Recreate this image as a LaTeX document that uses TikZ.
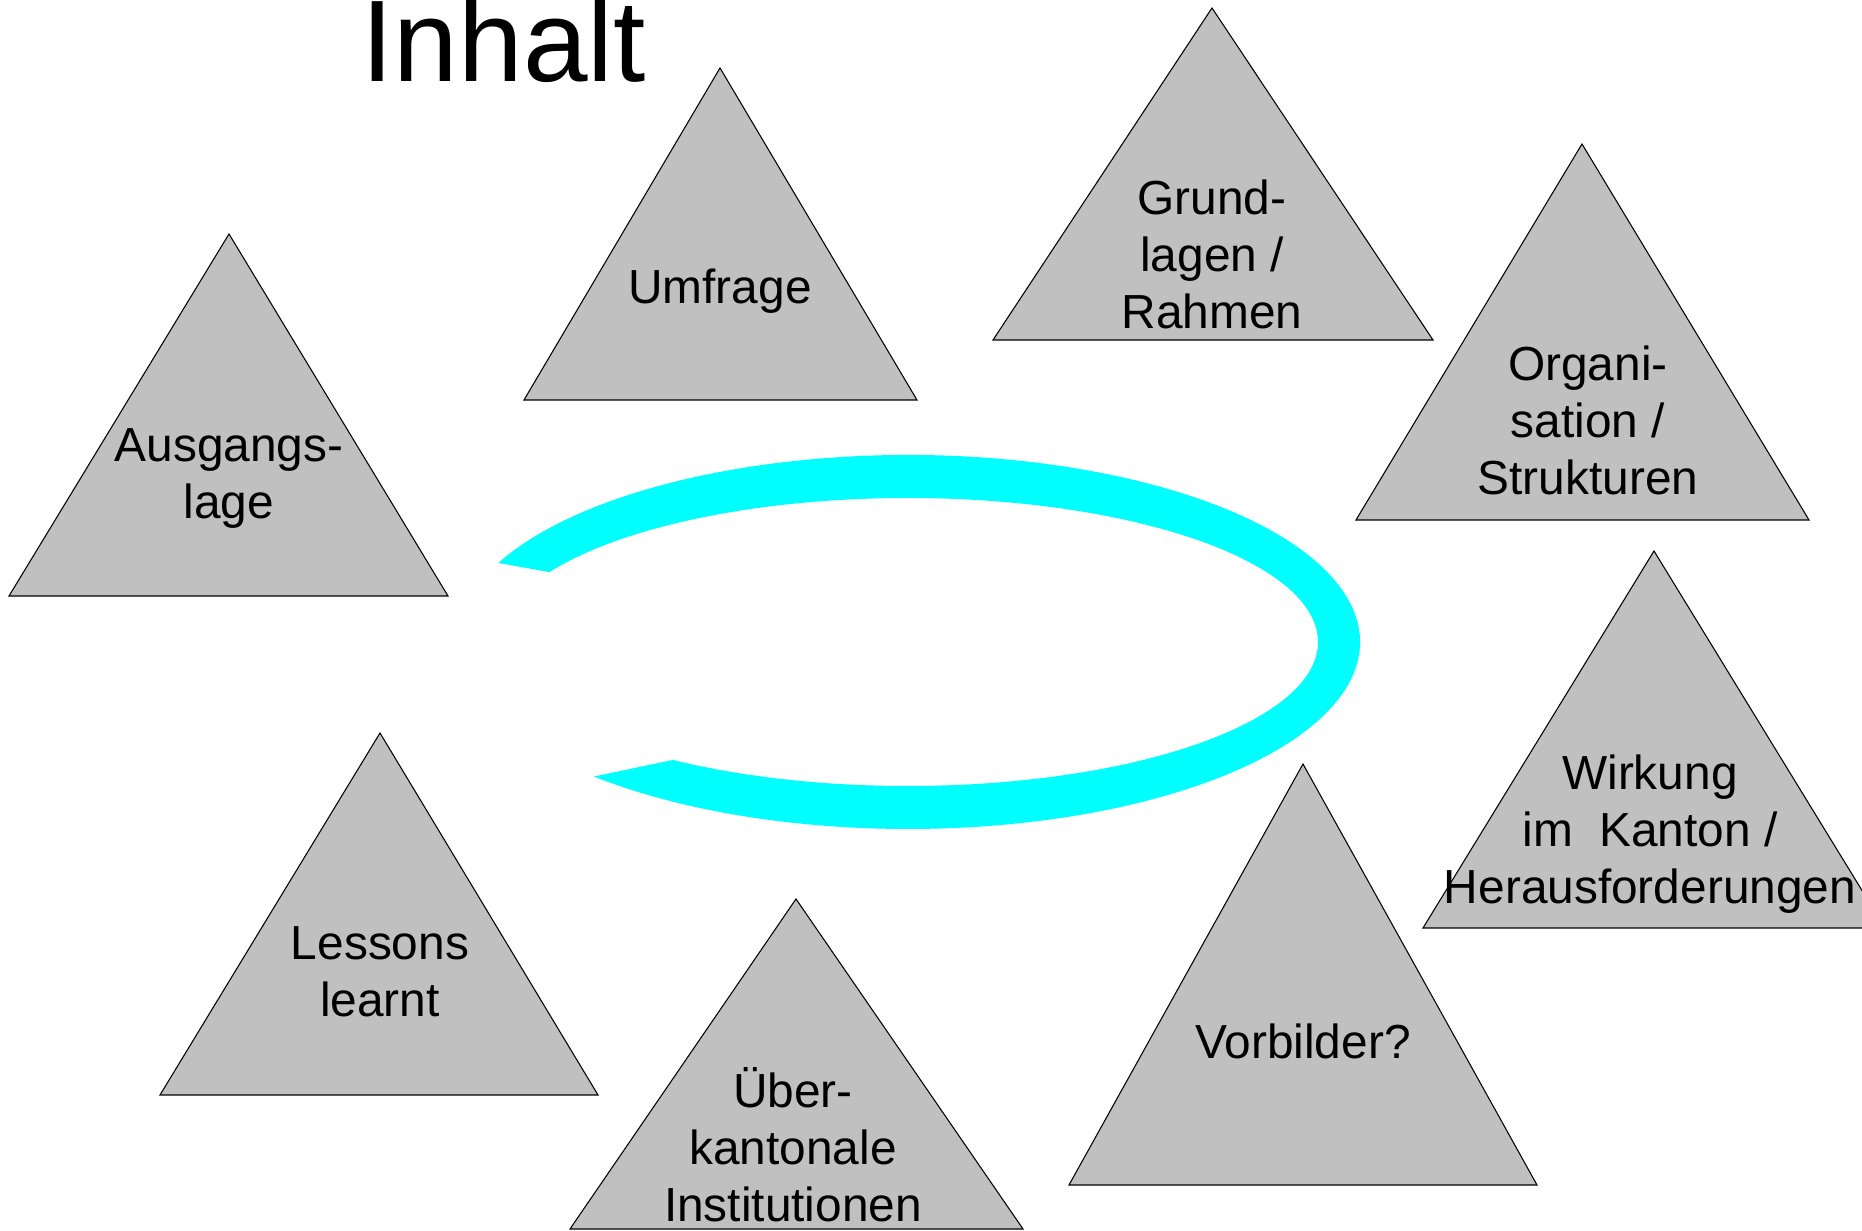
\documentclass[tikz,border=0pt]{standalone}
\usepackage{fontspec}
\setmainfont{Liberation Sans}
\usepackage{tikz}
\usetikzlibrary{positioning}
\definecolor{silver}{RGB}{192, 192, 192}
\definecolor{aqua}{RGB}{0, 255, 255}
\tikzset{
  tri/.style={fill=silver, draw=black, line width=0.3pt},
  lbl/.style={align=center, inner sep=0pt, font=\fontsize{13.6}{16.2}\selectfont}
}
\begin{document}
\begin{tikzpicture}[x=0.01cm, y=0.01cm]
            \useasboundingbox (0,0) rectangle (1862,1231);
            % title
            \node[anchor=base west, inner sep=0pt, font=\fontsize{33}{38}\selectfont] (title) at (361,1149) {Inhalt};
            % open ring
            \coordinate (ringc) at (908,589);
            \fill[aqua] ([shift={(155:452 and 187)}]ringc)
                 arc[start angle=155,  end angle=-134, x radius=452, y radius=187]
                 -- ([shift={(-125:410 and 144)}]ringc)
                 arc[start angle=-125, end angle=151,  x radius=410, y radius=144] -- cycle;
            % triangles
            \filldraw[tri] ( 229, 997) -- (   9, 635) -- ( 448, 635) -- cycle;
            \filldraw[tri] ( 720,1163) -- ( 524, 831) -- ( 917, 831) -- cycle;
            \filldraw[tri] (1212,1223) -- ( 993, 891) -- (1433, 891) -- cycle;
            \filldraw[tri] (1582,1087) -- (1356, 711) -- (1809, 711) -- cycle;
            \filldraw[tri] (1654, 680) -- (1423, 303) -- (1885, 303) -- cycle;
            \filldraw[tri] (1303, 467) -- (1069,  46) -- (1537,  46) -- cycle;
            \filldraw[tri] ( 796, 332) -- ( 570,   2) -- (1023,   2) -- cycle;
            \filldraw[tri] ( 380, 498) -- ( 160, 136) -- ( 598, 136) -- cycle;
            % texts
            \node[lbl] (ausgang) at ( 229, 752) {Ausgangs-\\lage};
            \node[lbl] (umfrage) at ( 720, 940) {Umfrage};
            \node[lbl] (grund)   at (1212, 977) {Grund-\\lagen /\\Rahmen};
            \node[lbl] (organi)  at (1588, 811) {Organi-\\sation /\\Strukturen};
            \node[lbl] (wirkung) at (1650, 397) {Wirkung\\im\ \ Kanton /\\Herausforderungen};
            \node[lbl] (vorbild) at (1303, 190) {Vorbilder?};
            \node[lbl] (ueber)   at ( 793,  86) {Über-\\kantonale\\Institutionen};
            \node[lbl] (lessons) at ( 380, 259) {Lessons\\learnt};
        \end{tikzpicture}
\end{document}
